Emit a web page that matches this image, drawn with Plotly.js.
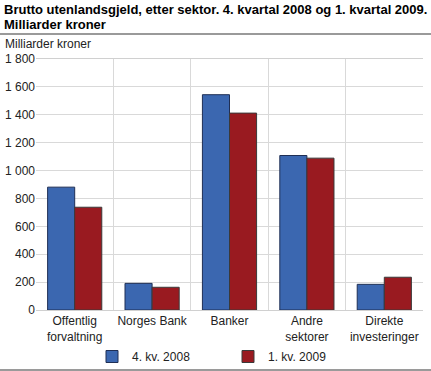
<!DOCTYPE html>
<html><head><meta charset="utf-8">
<script src="https://cdn.plot.ly/plotly-3.0.1.min.js"></script>
<style>html,body{margin:0;padding:0;background:#fff}#c{width:431px;height:371px}</style>
</head><body><div id="c"></div>
<script>
const categories = ["Offentlig<br>forvaltning", "Norges Bank", "Banker", "Andre<br>sektorer", "Direkte<br>investeringer"];
const series1Name = "4. kv. 2008";
const series2Name = "1. kv. 2009";
const series1 = [881, 191, 1544, 1108, 184];
const series2 = [737, 163, 1412, 1089, 235];
const yTicks = [0, 200, 400, 600, 800, 1000, 1200, 1400, 1600, 1800];

const xIdx = categories.map((_, i) => i);
const font = "Liberation Sans, Arial, sans-serif";
const W = 431, H = 371, L = 36, R = 8, T = 59, B = 61;
const pw = W - L - R, ph = H - T - B;
const traces = [
  {type: "bar", name: series1Name, x: xIdx, y: series1,
   marker: {color: "#3b67b0", line: {color: "#1f2f55", width: 1}}},
  {type: "bar", name: series2Name, x: xIdx, y: series2,
   marker: {color: "#991a20", line: {color: "#3a3a3a", width: 1}}},
  {type: "scatter", x: [-0.5, 4.5], y: [0, 0], xaxis: "x2", mode: "none", showlegend: false, hoverinfo: "skip"}
];
const layout = {
  width: W, height: H,
  margin: {l: L, r: R, t: T, b: B, autoexpand: false},
  paper_bgcolor: "#fff", plot_bgcolor: "#fff",
  font: {family: font, size: 12, color: "#222"},
  separators: ", ",
  bargap: 0.3, bargroupgap: 0,
  showlegend: true,
  xaxis: {type: "linear", range: [-0.5, 4.5], tickvals: xIdx, ticktext: categories, automargin: false,
    showgrid: false, zeroline: false, showline: true, linecolor: "#aaa", linewidth: 1,
    ticks: "", tickfont: {size: 12, color: "#222"}, fixedrange: true},
  xaxis2: {type: "linear", range: [-0.5, 4.5], overlaying: "x", tick0: 0.5, dtick: 1, automargin: false,
    showgrid: true, gridcolor: "#d9d9d9", gridwidth: 1, showticklabels: false, ticks: "",
    zeroline: false, showline: true, mirror: true, linecolor: "#d0d0d0"},
  yaxis: {range: [0, 1800], tickvals: yTicks, separatethousands: true, tickformat: ",d", automargin: false,
    showgrid: true, gridcolor: "#d9d9d9", gridwidth: 1, zeroline: false,
    ticks: "", ticklen: 0, tickfont: {size: 12, color: "#222"}, fixedrange: true},
  legend: {orientation: "h", x: 92/W, xref: "container", xanchor: "left", y: (H - 342)/H, yref: "container", yanchor: "top",
    entrywidth: 91, entrywidthmode: "pixels", font: {size: 12, color: "#222"},
    traceorder: "normal", bgcolor: "rgba(0,0,0,0)"},
  annotations: [
    {text: "<b>Brutto utenlandsgjeld, etter sektor. 4. kvartal 2008 og 1. kvartal 2009.</b>",
     xref: "paper", yref: "paper", x: -34/pw, xanchor: "left", y: (310 - 10)/ph, yanchor: "middle",
     showarrow: false, font: {family: font, size: 13, color: "#000"}},
    {text: "<b>Milliarder kroner</b>",
     xref: "paper", yref: "paper", x: -34/pw, xanchor: "left", y: (310 - 25)/ph, yanchor: "middle",
     showarrow: false, font: {family: font, size: 13, color: "#000"}},
    {text: "Milliarder kroner", xref: "paper", yref: "paper", x: -33/pw, xanchor: "left",
     y: (310 - 44)/ph, yanchor: "middle", showarrow: false, font: {size: 12, color: "#222"}}
  ],
  shapes: [
    {type: "line", xref: "paper", yref: "paper", x0: -L/pw, x1: (W - L)/pw,
     y0: (310 - 34)/ph, y1: (310 - 34)/ph, line: {color: "#9a9a9a", width: 2}},
    {type: "line", xref: "paper", yref: "paper", x0: -L/pw, x1: (W - L)/pw,
     y0: (310 - 370)/ph, y1: (310 - 370)/ph, line: {color: "#9a9a9a", width: 2}}
  ]
};
Plotly.newPlot("c", traces, layout, {displayModeBar: false, staticPlot: true});
</script></body></html>
